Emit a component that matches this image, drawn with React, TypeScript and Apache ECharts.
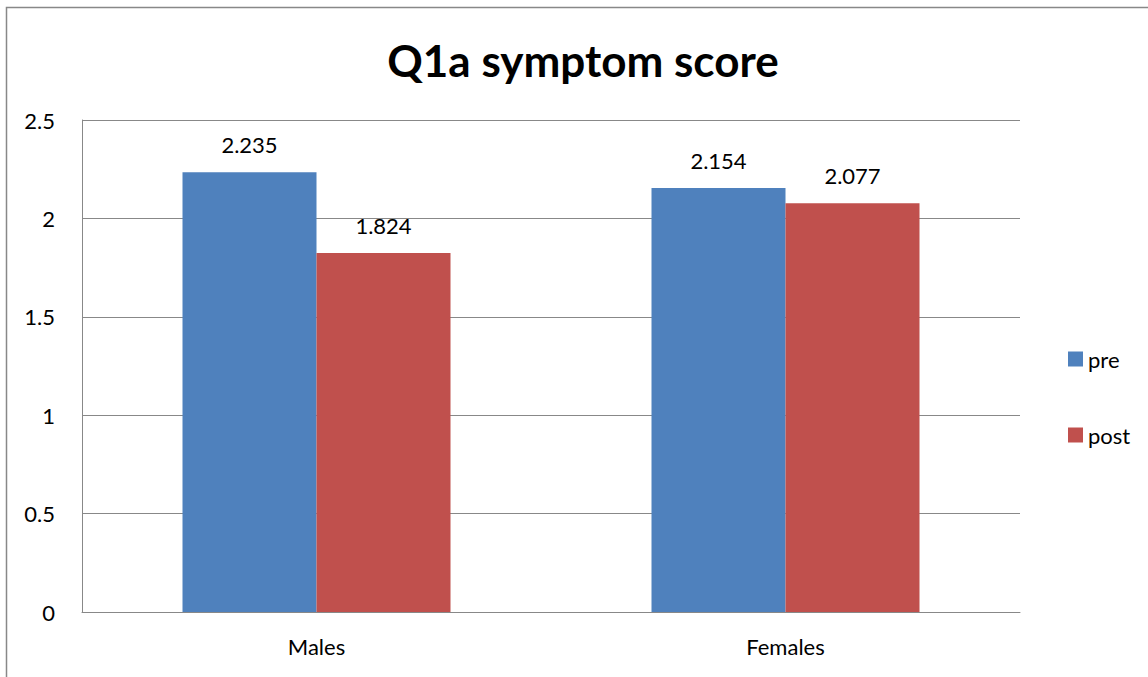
import React, { useEffect, useRef } from "react";
import * as echarts from "echarts";

const categories = ["Males", "Females"];
const preValues = [2.235, 2.154];
const postValues = [1.824, 2.077];
const seriesNames = ["pre", "post"];
const yTicks = [0, 0.5, 1, 1.5, 2, 2.5];

export default function App() {
  const ref = useRef<HTMLDivElement>(null);
  useEffect(() => {
    document.body.style.margin = "0";
    const chart = echarts.init(ref.current!, null, { renderer: "svg" });
    const font = "Lato, 'Open Sans', sans-serif";
    chart.setOption({
      animation: false,
      backgroundColor: "#ffffff",
      title: {
        text: "Q1a symptom score",
        left: 578,
        top: 33,
        textAlign: "center",
        textStyle: { fontFamily: font, fontWeight: "bold", fontSize: 44, color: "#000" },
      },
      graphic: [
        {
          type: "rect",
          shape: { x: 6.5, y: 7.5, width: 1200, height: 720 },
          style: { fill: "none", stroke: "#888", lineWidth: 1.5 },
          silent: true,
        },
      ],
      legend: {
        orient: "vertical",
        left: 1063,
        top: 343,
        itemWidth: 15,
        itemHeight: 15,
        itemGap: 54,
        icon: "rect",
        textStyle: { fontFamily: font, fontSize: 22, color: "#000" },
        data: seriesNames,
      },
      grid: { left: 82, top: 120, width: 938, height: 492 },
      xAxis: {
        type: "category",
        data: categories,
        axisLine: { lineStyle: { color: "#888", width: 1 } },
        axisTick: { show: false },
        axisLabel: { fontFamily: font, fontSize: 22, color: "#000", margin: 23 },
      },
      yAxis: {
        type: "value",
        min: yTicks[0],
        max: yTicks[yTicks.length - 1],
        interval: 0.5,
        axisLine: { show: true, lineStyle: { color: "#888", width: 1 } },
        axisTick: { show: false },
        splitLine: { lineStyle: { color: "#888", width: 1 } },
        axisLabel: { fontFamily: font, fontSize: 22, color: "#000", margin: 27 },
      },
      series: [
        {
          name: seriesNames[0],
          type: "bar",
          data: preValues,
          barWidth: 134,
          barGap: "0%",
          itemStyle: { color: "#4f81bd" },
          label: { show: true, position: "top", distance: 17, fontFamily: font, fontSize: 22, color: "#000" },
        },
        {
          name: seriesNames[1],
          type: "bar",
          data: postValues,
          barWidth: 134,
          barGap: "0%",
          itemStyle: { color: "#c0504d" },
          label: { show: true, position: "top", distance: 17, fontFamily: font, fontSize: 22, color: "#000" },
        },
      ],
    });
    return () => chart.dispose();
  }, []);
  return <div ref={ref} style={{ width: 1148, height: 677 }} />;
}
